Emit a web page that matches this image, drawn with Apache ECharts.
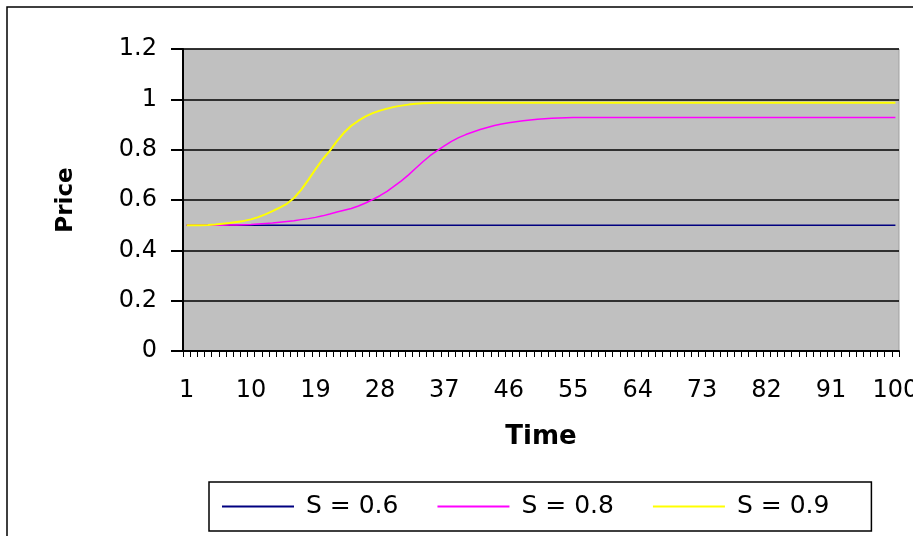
<!DOCTYPE html>
<html>
<head>
<meta charset="utf-8">
<script src="https://cdn.jsdelivr.net/npm/echarts@6/dist/echarts.min.js"></script>
<style>html,body{margin:0;padding:0;background:#fff}#c{width:913px;height:536px}</style>
</head>
<body>
<div id="c"></div>
<script>
var timeCategories = [];
for (var t = 1; t <= 100; t++) timeCategories.push(String(t));

var seriesNames = ['S = 0.6', 'S = 0.8', 'S = 0.9'];

var s06 = [
0.5,0.5,0.5,0.5,0.5,0.5,0.5,0.5,0.5,0.5,
0.5,0.5,0.5,0.5,0.5,0.5,0.5,0.5,0.5,0.5,
0.5,0.5,0.5,0.5,0.5,0.5,0.5,0.5,0.5,0.5,
0.5,0.5,0.5,0.5,0.5,0.5,0.5,0.5,0.5,0.5,
0.5,0.5,0.5,0.5,0.5,0.5,0.5,0.5,0.5,0.5,
0.5,0.5,0.5,0.5,0.5,0.5,0.5,0.5,0.5,0.5,
0.5,0.5,0.5,0.5,0.5,0.5,0.5,0.5,0.5,0.5,
0.5,0.5,0.5,0.5,0.5,0.5,0.5,0.5,0.5,0.5,
0.5,0.5,0.5,0.5,0.5,0.5,0.5,0.5,0.5,0.5,
0.5,0.5,0.5,0.5,0.5,0.5,0.5,0.5,0.5,0.5
];

var s08 = [
0.500,0.500,0.500,0.500,0.500,0.500,0.501,0.501,0.502,0.503,
0.505,0.507,0.509,0.512,0.515,0.518,0.522,0.526,0.531,0.537,
0.544,0.552,0.559,0.566,0.576,0.588,0.602,0.617,0.634,0.655,
0.676,0.700,0.726,0.752,0.776,0.796,0.815,0.833,0.848,0.860,
0.870,0.880,0.888,0.896,0.902,0.907,0.911,0.915,0.918,0.921,
0.923,0.925,0.926,0.927,0.928,0.928,0.928,0.928,0.928,0.928,
0.928,0.928,0.928,0.928,0.928,0.928,0.928,0.928,0.928,0.928,
0.928,0.928,0.928,0.928,0.928,0.928,0.928,0.928,0.928,0.928,
0.928,0.928,0.928,0.928,0.928,0.928,0.928,0.928,0.928,0.928,
0.928,0.928,0.928,0.928,0.928,0.928,0.928,0.928,0.928,0.928
];

var s09 = [
0.500,0.500,0.500,0.501,0.503,0.506,0.509,0.513,0.517,0.523,
0.532,0.543,0.556,0.570,0.585,0.608,0.640,0.680,0.722,0.762,
0.795,0.834,0.868,0.895,0.915,0.932,0.945,0.955,0.963,0.970,
0.975,0.979,0.982,0.984,0.985,0.986,0.986,0.986,0.986,0.986,
0.986,0.986,0.986,0.986,0.986,0.986,0.986,0.986,0.986,0.986,
0.986,0.986,0.986,0.986,0.986,0.986,0.986,0.986,0.986,0.986,
0.986,0.986,0.986,0.986,0.986,0.986,0.986,0.986,0.986,0.986,
0.986,0.986,0.986,0.986,0.986,0.986,0.986,0.986,0.986,0.986,
0.986,0.986,0.986,0.986,0.986,0.986,0.986,0.986,0.986,0.986,
0.986,0.986,0.986,0.986,0.986,0.986,0.986,0.986,0.986,0.986
];

var colors = ['#000080', '#ff00ff', '#ffff00'];
var font = 'DejaVu Sans';

var chart = echarts.init(document.getElementById('c'), null, {renderer: 'canvas'});
chart.setOption({
  animation: false,
  backgroundColor: '#ffffff',
  graphic: [{
    type: 'rect',
    shape: {x: 7, y: 7, width: 960, height: 600},
    style: {fill: 'none', stroke: '#000', lineWidth: 1.5},
    silent: true, z: -1
  }],
  grid: {
    left: 183, right: 14, top: 49, bottom: 185,
    outerBoundsMode: 'none',
    containLabel: false,
    show: true, backgroundColor: '#c0c0c0', borderColor: '#a0a0a0', borderWidth: 1
  },
  legend: {
    data: seriesNames,
    left: 209, top: 482,
    orient: 'horizontal',
    icon: 'rect',
    itemWidth: 72, itemHeight: 2,
    itemGap: 39,
    padding: [12, 42, 12, 13],
    backgroundColor: '#fff',
    borderColor: '#000', borderWidth: 1.5,
    textStyle: {fontFamily: font, fontSize: 25, color: '#000', padding: [0, 0, 0, 7]}
  },
  xAxis: {
    type: 'category',
    data: timeCategories,
    boundaryGap: true,
    name: 'Time',
    nameLocation: 'middle',
    nameGap: 73,
    nameTextStyle: {fontFamily: font, fontSize: 26, fontWeight: 'bold', color: '#000'},
    axisLine: {show: true, lineStyle: {color: '#000', width: 2}},
    axisTick: {show: true, interval: 0, length: 6, lineStyle: {color: '#000', width: 1}},
    axisLabel: {interval: 8, fontFamily: font, fontSize: 24, color: '#000', margin: 28},
    splitLine: {show: false}
  },
  yAxis: {
    type: 'value',
    min: 0, max: 1.2, interval: 0.2,
    name: 'Price',
    nameLocation: 'middle',
    nameGap: 105,
    nameRotate: 90,
    nameTextStyle: {fontFamily: font, fontSize: 23, fontWeight: 'bold', color: '#000'},
    axisLine: {show: true, lineStyle: {color: '#000', width: 2}},
    axisTick: {show: true, length: 12, lineStyle: {color: '#000', width: 2}},
    axisLabel: {fontFamily: font, fontSize: 24, color: '#000', margin: 26},
    splitLine: {show: true, lineStyle: {color: '#000', width: 1.5}}
  },
  series: [
    {name: seriesNames[0], type: 'line', data: s06, symbol: 'none', smooth: false, lineStyle: {color: colors[0], width: 1.5}, itemStyle: {color: colors[0]}},
    {name: seriesNames[1], type: 'line', data: s08, symbol: 'none', smooth: false, lineStyle: {color: colors[1], width: 1.5}, itemStyle: {color: colors[1]}},
    {name: seriesNames[2], type: 'line', data: s09, symbol: 'none', smooth: false, lineStyle: {color: colors[2], width: 2}, itemStyle: {color: colors[2]}}
  ]
});
</script>
</body>
</html>
